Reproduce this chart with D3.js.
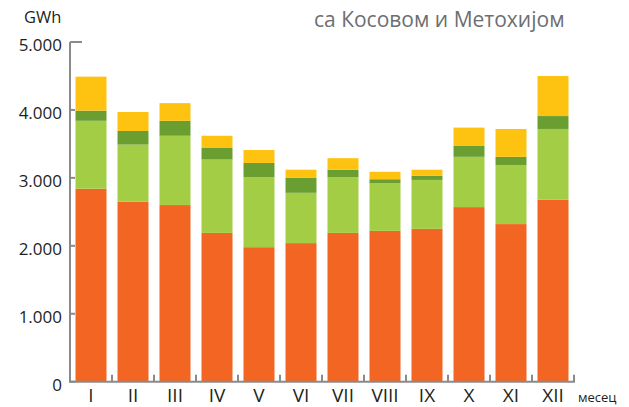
<!DOCTYPE html>
<html>
<head>
<meta charset="utf-8">
<script src="https://cdn.jsdelivr.net/npm/d3@7"></script>
<style>
  body { margin: 0; background: #fff; }
  svg text { font-family: "Open Sans", "Noto Sans", sans-serif; }
</style>
</head>
<body>
<svg id="chart" width="629" height="407"></svg>
<script>
// months and the four stacked parts (GWh)
const months = ["I", "II", "III", "IV", "V", "VI", "VII", "VIII", "IX", "X", "XI", "XII"];
const part1 = [2840, 2650, 2600, 2190, 1980, 2040, 2190, 2220, 2250, 2570, 2320, 2680]; // orange
const part2 = [1000, 840, 1020, 1080, 1030, 740, 820, 700, 720, 740, 870, 1040];        // light green
const part3 = [150, 200, 220, 170, 210, 220, 110, 60, 60, 160, 120, 190];                // dark green
const part4 = [500, 280, 260, 180, 190, 120, 170, 110, 90, 270, 410, 590];               // yellow
const yTicks = [0, 1000, 2000, 3000, 4000, 5000];
const yTickLabels = ["0", "1.000", "2.000", "3.000", "4.000", "5.000"];

const keys = ["p1", "p2", "p3", "p4"];
const colors = ["#f26522", "#a3cd45", "#6a9e31", "#fec210"];

const table = months.map((m, i) => ({
    month: m, p1: part1[i], p2: part2[i], p3: part3[i], p4: part4[i]
}));

const svg = d3.select("#chart");

const x = d3.scaleBand()
    .domain(months)
    .range([70, 574])
    .paddingInner(0.262)
    .paddingOuter(0.131);

const y = d3.scaleLinear()
    .domain([0, 5000])
    .range([381.7, 42]);

const stack = d3.stack().keys(keys);
const series = stack(table);

// bars
svg.append("g")
    .selectAll("g")
    .data(series)
    .join("g")
    .attr("fill", (d, i) => colors[i])
    .selectAll("rect")
    .data(d => d)
    .join("rect")
    .attr("x", d => x(d.data.month))
    .attr("y", d => y(d[1]))
    .attr("width", x.bandwidth())
    .attr("height", d => y(d[0]) - y(d[1]));

const axisColor = "#8a8a8a";

// y axis line
svg.append("line")
    .attr("x1", 70).attr("x2", 70)
    .attr("y1", y(5000)).attr("y2", y(0))
    .attr("stroke", axisColor).attr("stroke-width", 2);

// y ticks (short stubs to the right, longer at the top)
svg.append("g")
    .selectAll("line")
    .data(yTicks)
    .join("line")
    .attr("x1", 70)
    .attr("x2", d => d === 5000 ? 82 : 75)
    .attr("y1", d => y(d)).attr("y2", d => y(d))
    .attr("stroke", axisColor).attr("stroke-width", 2);

svg.append("g")
    .selectAll("text")
    .data(yTicks)
    .join("text")
    .attr("x", 62)
    .attr("y", d => y(d) + 9)
    .attr("text-anchor", "end")
    .attr("font-size", 17)
    .attr("fill", "#231f20")
    .text((d, i) => yTickLabels[i]);

// x axis line + ticks between months
const step = x.step();
svg.append("line")
    .attr("x1", 69).attr("x2", 575)
    .attr("y1", y(0)).attr("y2", y(0))
    .attr("stroke", axisColor).attr("stroke-width", 2);

svg.append("g")
    .selectAll("line")
    .data(months)
    .join("line")
    .attr("x1", (d, i) => 70 + step * (i + 1))
    .attr("x2", (d, i) => 70 + step * (i + 1))
    .attr("y1", y(0)).attr("y2", y(0) - 7)
    .attr("stroke", axisColor).attr("stroke-width", 2);

svg.append("g")
    .selectAll("text")
    .data(months)
    .join("text")
    .attr("x", d => x(d) + x.bandwidth() / 2)
    .attr("y", 402)
    .attr("text-anchor", "middle")
    .attr("font-size", 19)
    .attr("fill", "#231f20")
    .text(d => d);

// labels
svg.append("text")
    .attr("x", 578).attr("y", 402)
    .attr("font-size", 13)
    .attr("fill", "#231f20")
    .text("месец");

svg.append("text")
    .attr("x", 24).attr("y", 23)
    .attr("font-size", 16.5)
    .attr("fill", "#231f20")
    .text("GWh");

svg.append("text")
    .attr("x", 314).attr("y", 27)
    .attr("font-size", 21)
    .attr("fill", "#6d6e71")
    .text("са Косовом и Метохијом");
</script>
</body>
</html>
